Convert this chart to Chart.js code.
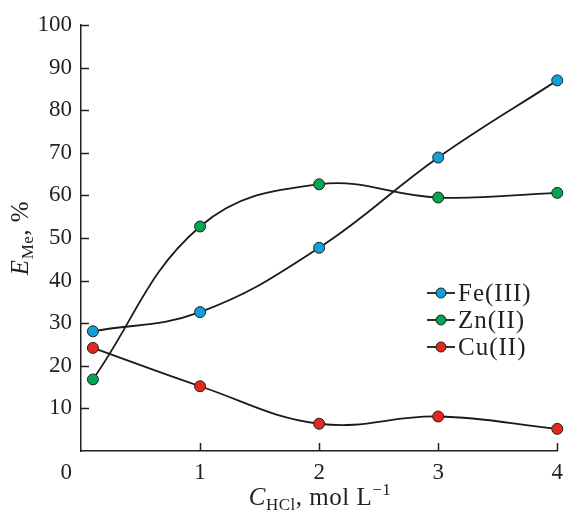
<!DOCTYPE html>
<html>
<head>
<meta charset="utf-8">
<script src="https://cdn.jsdelivr.net/npm/chart.js@4/dist/chart.umd.min.js"></script>
<style>
  html, body { margin: 0; padding: 0; background: #fff; }
  #wrap { width: 571px; height: 512px; }
</style>
</head>
<body>
<div id="wrap"><canvas id="chart-area"></canvas></div>
<script>
// HCl concentration, mol/L
var concHCl = [0.1, 1, 2, 3, 4];
// extraction degree, %
var feValues = [28.1, 32.6, 47.7, 68.9, 87.0];
var znValues = [16.8, 52.7, 62.6, 59.5, 60.6];
var cuValues = [24.2, 15.2, 6.4, 8.1, 5.2];
var seriesNames = ['Fe(III)', 'Zn(II)', 'Cu(II)'];
var seriesColors = ['#109fd9', '#00a651', '#e3281e'];
var yTicks = [10, 20, 30, 40, 50, 60, 70, 80, 90, 100];
var xTicks = [1, 2, 3, 4];

var INK = '#231f20';
var FONT = '"Liberation Serif", "Times New Roman", serif';

function pts(vals) {
	return vals.map(function(v, i) { return { x: concHCl[i], y: v }; });
}

function makeSet(name, vals, color) {
	return {
		label: name,
		data: pts(vals),
		borderColor: '#1a1a1a',
		borderWidth: 1.8,
		tension: 0.4,
		pointRadius: 5.5,
		pointBackgroundColor: color,
		pointBorderColor: '#222',
		pointBorderWidth: 1,
		clip: false,
		fill: false
	};
}

// draws text pieces (normal, italic, sub, sup) in a row, centred on x
function richText(ctx, parts, x, y, size) {
	var total = 0;
	parts.forEach(function(p) {
		ctx.font = (p.italic ? 'italic ' : '') + Math.round(size * (p.scale || 1)) + 'px ' + FONT;
		p.w = ctx.measureText(p.text).width;
		total += p.w;
	});
	var cx = x - total / 2;
	parts.forEach(function(p) {
		ctx.font = (p.italic ? 'italic ' : '') + Math.round(size * (p.scale || 1)) + 'px ' + FONT;
		ctx.fillText(p.text, cx, y + (p.dy || 0));
		cx += p.w;
	});
}

var decor = {
	id: 'decor',
	afterDraw: function(chart) {
		var ctx = chart.ctx;
		var xs = chart.scales.x, ys = chart.scales.y;
		var area = chart.chartArea;
		ctx.save();
		ctx.strokeStyle = INK;
		ctx.lineWidth = 1.5;
		// inward tick marks
		yTicks.forEach(function(v) {
			var py = Math.round(ys.getPixelForValue(v)) + 0.5;
			ctx.beginPath();
			ctx.moveTo(area.left, py);
			ctx.lineTo(area.left + 8, py);
			ctx.stroke();
		});
		xTicks.forEach(function(v) {
			var px = Math.round(xs.getPixelForValue(v)) + 0.5;
			ctx.beginPath();
			ctx.moveTo(px, area.bottom);
			ctx.lineTo(px, area.bottom - 8);
			ctx.stroke();
		});
		ctx.fillStyle = INK;
		ctx.textBaseline = 'alphabetic';
		// common origin label
		ctx.font = '23px ' + FONT;
		ctx.textAlign = 'right';
		ctx.fillText('0', area.left - 9, area.bottom + 28);
		ctx.textAlign = 'left';
		// x axis title
		ctx.letterSpacing = '0.5px';
		richText(ctx, [
			{ text: 'C', italic: true },
			{ text: 'HCl', scale: 0.68, dy: 5 },
			{ text: ', mol L' },
			{ text: '\u22121', scale: 0.68, dy: -10 }
		], 320, 505, 25);
		// y axis title
		ctx.save();
		ctx.translate(28, 238);
		ctx.rotate(-Math.PI / 2);
		richText(ctx, [
			{ text: 'E', italic: true },
			{ text: 'Me', scale: 0.68, dy: 5 },
			{ text: ', %' }
		], 0, 0, 25);
		ctx.restore();
		// legend
		ctx.letterSpacing = '1px';
		chart.data.datasets.forEach(function(ds, i) {
			var ly = 293 + i * 27;
			ctx.strokeStyle = '#1a1a1a';
			ctx.lineWidth = 1.8;
			ctx.beginPath();
			ctx.moveTo(427, ly);
			ctx.lineTo(455, ly);
			ctx.stroke();
			ctx.beginPath();
			ctx.arc(441, ly, 5, 0, Math.PI * 2);
			ctx.fillStyle = ds.pointBackgroundColor;
			ctx.fill();
			ctx.lineWidth = 1;
			ctx.strokeStyle = '#222';
			ctx.stroke();
			ctx.fillStyle = INK;
			ctx.font = '25px ' + FONT;
			ctx.textBaseline = 'middle';
			ctx.fillText(ds.label, 458, ly + 1);
		});
		ctx.restore();
	}
};

new Chart(document.getElementById('chart-area'), {
	type: 'line',
	data: {
		datasets: [
			makeSet(seriesNames[0], feValues, seriesColors[0]),
			makeSet(seriesNames[1], znValues, seriesColors[1]),
			makeSet(seriesNames[2], cuValues, seriesColors[2])
		]
	},
	options: {
		responsive: true,
		maintainAspectRatio: false,
		animation: false,
		layout: { padding: { left: 0, top: 25, right: 7, bottom: 0 } },
		plugins: {
			legend: { display: false },
			tooltip: { enabled: false }
		},
		scales: {
			x: {
				type: 'linear',
				min: 0,
				max: 4,
				afterFit: function(scale) { scale.height = 61; },
				grid: { display: false, drawTicks: false, tickLength: 0 },
				border: { display: true, color: INK, width: 1.5 },
				ticks: {
					stepSize: 1,
					padding: 8,
					color: INK,
					font: { family: FONT, size: 23 },
					callback: function(v) { return v === 0 ? '' : v; }
				}
			},
			y: {
				min: 0,
				max: 100,
				afterFit: function(scale) { scale.width = 81; },
				grid: { display: false, drawTicks: false, tickLength: 0 },
				border: { display: true, color: INK, width: 1.5 },
				ticks: {
					stepSize: 10,
					padding: 9,
					color: INK,
					font: { family: FONT, size: 23 },
					callback: function(v) { return v === 0 ? '' : v; }
				}
			}
		}
	},
	plugins: [decor]
});
</script>
</body>
</html>
